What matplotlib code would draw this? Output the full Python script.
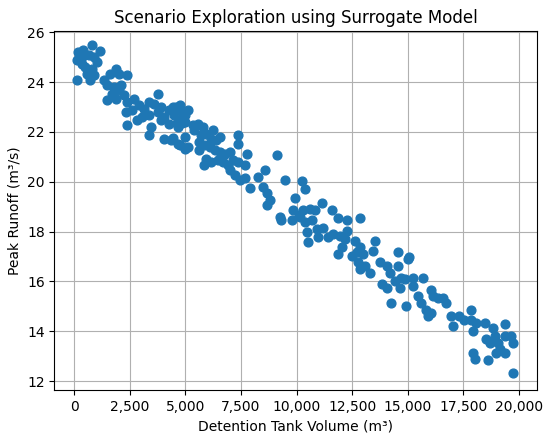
import matplotlib
matplotlib.use("Agg")
import matplotlib.pyplot as plt
from matplotlib.ticker import FuncFormatter

volume = [
    197, 424, 803, 1182, 121, 348, 651, 879, 1030, 500, 803, 576, 879, 121, 727, 348,
    1333, 1636, 1864, 2015, 2394, 1485, 1788, 2091, 1712, 2015, 1485, 1864, 2242,
    2394, 2697, 2924, 2621, 2318, 3151, 3378, 3757, 3606, 3909, 3075, 3378, 3757, 4060,
    4287, 4590, 4818, 4515, 4742, 4969, 5121, 2848, 2394, 3454, 3909, 4287, 4666, 4969,
    3378, 4060, 4363, 4666, 4969, 5121, 4969, 4464, 4764, 4914, 4614, 4839, 4464, 4764, 4989,
    5333, 5561, 5788, 5409, 5712, 5939, 6242, 6167, 6394, 6545, 5636, 5864, 5636, 6091,
    6318, 6545, 6773, 7000, 5939, 6167, 5864, 6470, 6697, 6924, 7151, 7379, 7379, 7379,
    7757, 7682, 7000, 7227, 7454, 7682, 7909, 8288, 8591, 8515, 8667, 8818, 8667, 9121,
    9500, 9954, 9273, 10106,
    10225, 10375, 9850, 10300, 10600, 10825, 11125, 11575, 11875, 12250, 12850, 9325,
    9775, 10150, 10375, 10675, 10450, 10525, 10900, 11200, 10975, 11425, 11650, 11950,
    12250, 12175, 12025, 11875, 12475, 12625, 12850, 12700, 13000, 13525, 13450, 12775,
    13075, 13300, 12850, 13750, 14050, 14200, 14575, 14575, 13825, 14050, 14425, 14650,
    14875, 15025,
    15075, 14700, 14250, 14925, 15225, 15225, 15675, 15450, 15600, 16050, 16125, 16350,
    16575, 16725, 15825, 16050, 15900, 16950, 17025, 17325, 17550, 17850, 17850, 18075,
    17925, 18450, 18825, 19350, 18525, 18900, 18675, 19050, 19350, 19650, 19125, 19350,
    18975, 19725, 17925, 18000, 18600, 19725,
]
runoff = [
    25.20, 25.27, 25.47, 25.24, 24.87, 25.00, 25.07, 25.00, 24.80, 24.60, 24.53, 24.33, 24.27, 24.09, 24.07, 24.73,
    24.07, 24.33, 24.53, 24.33, 24.27, 23.87, 23.80, 23.87, 23.53, 23.67, 23.27, 23.33, 23.47,
    23.20, 23.33, 23.07, 22.87, 22.80, 22.93, 23.20, 23.53, 23.13, 23.00, 22.60, 22.67, 22.80, 22.60,
    22.87, 23.00, 22.87, 22.67, 22.47, 22.67, 22.87, 22.47, 22.27, 22.20, 22.47, 22.33, 22.20, 22.40,
    21.87, 21.73, 21.67, 21.53, 21.80, 21.40, 21.33, 23.01, 23.08, 22.75, 22.35, 22.35, 21.74, 21.47, 21.34,
    22.27, 22.33, 22.20, 22.07, 21.87, 21.93, 22.07, 21.73, 21.67, 21.80, 21.60, 21.47, 21.27, 21.40,
    21.27, 21.20, 21.13, 21.20, 20.93, 20.80, 20.67, 20.87, 20.80, 20.67, 20.87, 21.87, 21.53, 20.80,
    21.13, 20.67, 20.47, 20.27, 20.07, 20.13, 19.73, 20.20, 20.47, 19.80, 19.53, 19.27, 19.07, 21.07,
    20.07, 19.33, 18.60, 18.67,
    20.04, 19.69, 18.85, 18.85, 18.92, 18.85, 19.15, 18.88, 18.55, 18.47, 18.55, 18.47,
    18.47, 18.58, 18.38, 18.45, 17.97, 17.57, 18.11, 18.15, 17.77, 17.77, 17.91, 17.84,
    18.01, 17.70, 17.37, 17.10, 17.03, 17.64, 17.37, 17.17, 17.10, 17.64, 17.23, 16.76,
    16.62, 16.35, 16.49, 16.76, 16.62, 16.35, 17.16, 16.62, 15.88, 15.74, 16.01, 15.74,
    16.08, 16.89,
    16.97, 16.13, 15.13, 15.00, 16.13, 15.83, 16.13, 15.40, 15.13, 15.67, 15.40, 15.33,
    15.33, 15.13, 14.87, 14.73, 14.60, 14.60, 14.20, 14.60, 14.47, 14.87, 14.47, 14.33,
    13.99, 14.33, 14.13, 14.27, 13.67, 13.80, 13.53, 13.53, 13.80, 13.80, 13.27, 13.13,
    13.13, 13.53, 13.13, 12.87, 12.84, 12.33,
]

fig = plt.figure(figsize=(5.5, 4.41), dpi=100)
ax = fig.add_axes([0.099, 0.1156, 0.877, 0.8141])
ax.scatter(volume, runoff, s=40, color="#1f77b4", zorder=3)
ax.set_xlim(-880, 20800)
ax.set_ylim(11.64, 26.05)
ax.set_xticks([0, 2500, 5000, 7500, 10000, 12500, 15000, 17500, 20000])
ax.set_yticks([12, 14, 16, 18, 20, 22, 24, 26])
ax.xaxis.set_major_formatter(FuncFormatter(lambda v, p: f"{int(v):,}"))
ax.grid(True)
ax.set_axisbelow(True)
ax.set_title("Scenario Exploration using Surrogate Model")
ax.set_xlabel("Detention Tank Volume (m³)")
ax.set_ylabel("Peak Runoff (m³/s)")
fig.savefig("out.png", dpi=100)
